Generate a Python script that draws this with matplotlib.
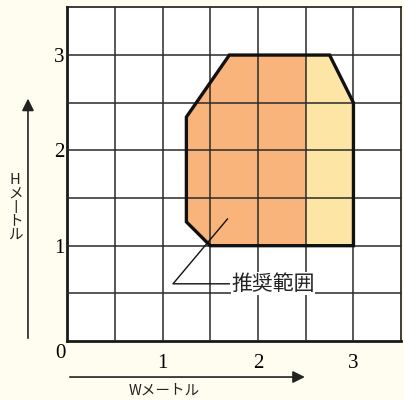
import numpy as np
import matplotlib
matplotlib.use('Agg')
import matplotlib.pyplot as plt
from matplotlib.patches import Polygon, Rectangle

# recommended range outline (W, H in metres)
poly_w = [1.5, 1.25, 1.25, 1.7, 2.75, 3.0, 3.0]
poly_h = [1.0, 1.25, 2.35, 3.0, 3.0, 2.5, 1.0]
split_w = 2.5  # right part drawn lighter

tick_vals = [1, 2, 3]
tick_labels = ['1', '2', '3']
label_text = '推奨範囲'
w_label = 'Wメートル'
h_label = ['H', 'メ', '丨', 'ト', 'ル']

bg = '#fffdf0'
dark = '#f8b47a'
light = '#fde5a6'
jp = ['Noto Sans CJK JP', 'DejaVu Sans']
serif = ['Liberation Serif', 'DejaVu Serif']

fig = plt.figure(figsize=(4.04, 4.0), dpi=100, facecolor=bg)
ax = fig.add_axes([0.166, 0.1475, 0.827, 0.834])
ax.set_facecolor('white')
ax.set_xlim(0, 3.5)
ax.set_ylim(0, 3.5)

# grid every half metre
ax.set_xticks(tick_vals)
ax.set_yticks(tick_vals)
ax.set_xticks(np.arange(0.5, 3.5, 0.5), minor=True)
ax.set_yticks(np.arange(0.5, 3.5, 0.5), minor=True)
ax.grid(which='both', color='#2a2a2a', lw=1.1)
ax.set_axisbelow(False)
ax.tick_params(which='both', length=0)
ax.set_xticklabels(tick_labels, fontsize=15, family=serif)
ax.set_yticklabels(tick_labels, fontsize=15, family=serif)
ax.tick_params(axis='x', pad=9)
ax.tick_params(axis='y', pad=2)
for s in ax.spines.values():
    s.set_color('#1a1a1a')
    s.set_linewidth(1.2)
ax.spines['left'].set_linewidth(2.0)
ax.spines['bottom'].set_linewidth(2.0)
ax.text(-0.07, -0.13, '0', fontsize=15, family=serif, ha='center', va='center')

pts = np.column_stack([poly_w, poly_h])
fill = Polygon(pts, closed=True, facecolor=dark, edgecolor='none', zorder=1)
ax.add_patch(fill)
right = Rectangle((split_w, 0), 3.5 - split_w, 3.5, facecolor=light,
                  edgecolor='none', zorder=1.5)
ax.add_patch(right)
right.set_clip_path(fill)
ax.add_patch(Polygon(pts, closed=True, fill=False, edgecolor='#111111',
                     lw=2.4, zorder=4, joinstyle='miter'))

# leader to the label
ax.plot([1.68, 1.11, 1.7], [1.28, 0.6, 0.6], color='#111111', lw=1.0, zorder=5)
ax.text(1.72, 0.6, label_text, fontsize=15, family=jp, ha='left', va='center',
        color='#222222', zorder=6,
        bbox=dict(facecolor='white', edgecolor='none', pad=0.5))

# axis arrows and names
ax.annotate('', xy=(-0.117, 0.735), xytext=(-0.117, 0.0), xycoords='axes fraction',
            arrowprops=dict(arrowstyle='-|>', color='#222222', lw=1.2,
                            mutation_scale=18), annotation_clip=False)
ax.annotate('', xy=(0.72, -0.108), xytext=(0.0, -0.108), xycoords='axes fraction',
            arrowprops=dict(arrowstyle='-|>', color='#222222', lw=1.2,
                            mutation_scale=18), annotation_clip=False)
ax.text(0.29, -0.148, w_label, transform=ax.transAxes, fontsize=10.5, family=jp,
        ha='center', va='center', color='#222222')
ax.text(-0.155, 0.40, '\n'.join(h_label), transform=ax.transAxes, fontsize=10.5,
        family=jp, ha='center', va='center', color='#222222', linespacing=1.0)

fig.savefig('out.png', dpi=100, facecolor=bg)
